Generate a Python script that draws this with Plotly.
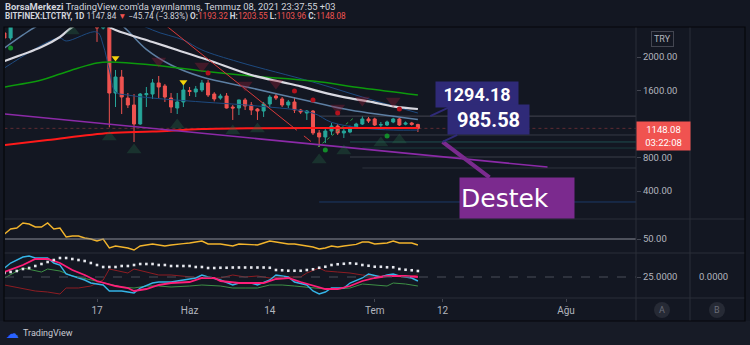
import plotly.graph_objects as go
import pandas as pd

W, H = 750, 345
BG = "#131722"
UP, DN = "#26a69a", "#ef5350"
TXT = "#b2b5be"


def yp(v):
    return (H - v) / H


def xp(v):
    return v / W


base = pd.Timestamp("2021-05-17")


def days(lst):
    return [base + pd.Timedelta(days=d) for d in lst]


# ---------------- price data (BITFINEX:LTCTRY, 1D) ----------------
dates = pd.date_range("2021-05-02", "2021-07-08", freq="D")
opens = [2287, 2227, 2750, 2560, 2900, 2980, 2950, 3050, 3150, 3000, 3200, 2550, 2650, 2780, 2480,
         2500, 2346, 2420, 1570, 1761, 1510, 1427, 1200, 1550, 1558, 1690, 1654, 1510, 1391, 1463,
         1600, 1582, 1606, 1690, 1558, 1510, 1534, 1403, 1391, 1487, 1427, 1379, 1355, 1439, 1534,
         1499, 1427, 1463, 1367, 1331, 1355, 1093, 1045, 1116, 1176, 1093, 1104, 1164, 1200, 1260,
         1260, 1188, 1188, 1224, 1260, 1198, 1212, 1193.32]
highs = [2420, 2800, 2850, 2950, 3050, 3050, 3100, 3300, 3450, 3250, 3300, 2800, 2900, 2820, 2650,
         2560, 2560, 2480, 1845, 1845, 1570, 1558, 1570, 1642, 1737, 1773, 1678, 1570, 1570, 1666,
         1642, 1654, 1725, 1725, 1580, 1560, 1570, 1427, 1490, 1510, 1463, 1391, 1463, 1546, 1570,
         1522, 1487, 1522, 1380, 1367, 1367, 1128, 1164, 1212, 1200, 1152, 1180, 1215, 1296, 1284,
         1275, 1224, 1240, 1275, 1272, 1230, 1225, 1203.55]
lows = [2190, 2200, 2500, 2540, 2850, 2850, 2900, 2950, 2900, 2950, 2500, 2400, 2600, 2450, 2400,
        2180, 2330, 1160, 1403, 1319, 1391, 985, 1190, 1403, 1499, 1510, 1463, 1331, 1319, 1403,
        1534, 1522, 1582, 1522, 1470, 1490, 1385, 1248, 1307, 1367, 1307, 1248, 1284, 1403, 1487,
        1403, 1391, 1331, 1320, 1248, 1069, 925, 973, 1069, 1069, 1033, 1090, 1150, 1188, 1212,
        1176, 1152, 1176, 1210, 1176, 1185, 1180, 1103.96]
closes = [2227, 2750, 2560, 2900, 2980, 2950, 3050, 3150, 3000, 3200, 2550, 2650, 2780, 2480, 2500,
          2346, 2420, 1570, 1761, 1522, 1427, 1200, 1558, 1562, 1690, 1642, 1522, 1403, 1463, 1606,
          1588, 1618, 1690, 1546, 1499, 1534, 1391, 1391, 1487, 1415, 1367, 1355, 1439, 1522, 1510,
          1427, 1463, 1367, 1343, 1355, 1093, 1045, 1116, 1176, 1093, 1116, 1164, 1200, 1260, 1236,
          1188, 1192, 1224, 1260, 1188, 1212, 1195, 1148.08]

# moving averages / bands (day offsets from 17 May)
white_days = [-15, -9, -6, -4, -1, 3, 9, 13, 18, 25, 30, 33, 36, 40, 44, 48, 52]
white_vals = [1952, 2119, 2239, 2358, 2460, 2322, 2179, 2084, 1964, 1785, 1700, 1650, 1590, 1520, 1470, 1410, 1379]
green_ma_days = [-15, -9, -6, -3, 0, 2, 9, 17, 25, 35, 43, 52]
green_ma_vals = [1642, 1725, 1797, 1869, 1928, 1940, 1904, 1833, 1773, 1713, 1630, 1546]
red_ma_days = [-15, -8, 2, 9, 17, 26, 39, 52]
red_ma_vals = [949, 1009, 1093, 1110, 1140, 1150, 1153, 1153]
steel_days = [-15, -12, -10, -6, -2, 1, 4, 8, 12, 17, 25, 35, 41, 52]
steel_vals = [2107, 2263, 2358, 2480, 2560, 2520, 2382, 2090, 1904, 1761, 1630, 1463, 1367, 1255]
bbu_days = [-15, -5, 0, 5, 9, 14, 17, 23, 35, 43, 52]
bbu_vals = [3000, 3500, 3400, 2500, 2322, 2203, 2084, 1940, 1701, 1522, 1331]
bbl_days = [-15, -8, -6, -5, 0, 1, 2, 3, 5, 9, 17, 26, 35, 38, 43, 48, 52]
bbl_vals = [1869, 2179, 2227, 2191, 2298, 2143, 1845, 1582, 1546, 1510, 1463, 1415, 1330, 1220, 1152, 1128, 1128]

# drawings
purple_dates = ["2021-05-02 02:00", "2021-07-29 00:00"]
purple_prices = [1320, 686]
red_trend_dates = ["2021-05-27 19:00", "2021-06-17 06:00"]
red_trend_prices = [2398, 1192]
red_dash_dates = ["2021-06-17 06:00", "2021-06-21 19:00"]
red_dash_prices = [1192, 925]
green_dash_dates = ["2021-06-21 19:00", "2021-06-27 19:00"]
green_dash_prices = [925, 1284]
level_prices = [1294.18, 1069, 985.58, 913, 806, 675, 269]
level_starts = ["2021-06-22", "2021-06-27", "2021-06-27", "2021-06-29", "2021-06-27", "2021-06-29", "2021-06-22"]
level_colors = ["#434651", "#363a45", "#1f4d4f", "#1b3a3c", "#3a3e49", "#2f333e", "#1c3a66"]
RANGE_END = "2021-08-12 08:14"

# signal markers
gup_days = [-4, 2, 6, 13, 22, 26, 36, 40, 46, 49]
gup_prices = [2310, 1045, 890, 1188, 1116, 1140, 770, 878, 973, 1009]
rdn_days = [10, 17, 24, 29, 39, 43, 48]
rdn_prices = [1952, 1892, 1666, 1690, 1391, 1487, 1475]
ydn_days = [3, 14]
ydn_prices = [1988, 1701]
rdot_days = [18, 32, 35, 39, 49]
rdot_prices = [1809, 1594, 1487, 1331, 1379]
gdot_days = [-14, 37, 47]
gdot_prices = [2107, 890, 1057]

# RSI pane (daily, 2 May .. 8 Jul)
rsi_vals = [57.5, 65, 66.5, 74, 72.5, 68, 68, 74, 65, 66.5, 53, 54.5, 54.5, 51.5, 50,
            47, 50, 36.5, 39.5, 38, 36.5, 33.5, 39.5, 41, 42.5, 41, 39.5, 41, 42.5, 43, 44, 45.5, 47, 42.5, 43,
            42.5, 41, 39.5, 42.5, 42, 41, 41, 44, 47, 45.5, 44, 42.5, 42.5, 41, 39.5, 38, 35, 36.5, 39.5, 38,
            39.5, 41, 42, 45.5, 45.5, 42.5, 43, 44, 47, 44, 44, 44, 41]

# DMI-like pane
cyan_days = [-15, -14, -12, -11, -10, -8, -7, -6, -5, -3, -2, -1, 1, 2, 4, 5, 6, 7, 9, 10, 12, 13, 15, 16, 17,
             18, 20, 22, 23, 25, 26, 28, 29, 31, 32, 34, 35, 36, 37, 38, 40, 41, 43, 44, 46, 47, 48, 49, 51, 52]
cyan_vals = [32.2, 36.2, 41, 41.8, 40.2, 40.2, 36.2, 34.6, 27.4, 24.2, 22.6, 20.2, 18.6, 13.8, 13.8, 13, 12.2,
             16.2, 20.2, 21, 21, 21.8, 23.4, 24.2, 26.6, 25, 22.6, 18.6, 20.2, 20.2, 18.6, 22.6, 26.6, 25, 21,
             18.6, 13.8, 11.4, 13, 16.2, 16.2, 20.2, 24.2, 27.4, 25, 26.6, 27.4, 25.8, 24.2, 21.8]
pink_days = [-15, -12, -10, -8, -6, -4, -2, 0, 3, 5, 6, 8, 10, 12, 15, 17, 19, 20, 23, 25, 27, 29, 31, 33, 36,
             37, 39, 41, 43, 45, 47, 50, 52]
pink_vals = [29, 34.6, 39.4, 39.4, 36.2, 30.6, 26.6, 21.8, 17.8, 16.2, 13.8, 15.4, 18.6, 20.2, 21, 24.2, 24.2,
             21.8, 20.2, 20.2, 20.2, 23.4, 24.2, 21, 17, 15.4, 15.4, 17.8, 21.8, 24.2, 25.8, 25.8, 25]
dgreen_days = [-15, -12, -9, -8, -6, -4, -3, -1, 2, 4, 6, 8, 10, 12, 15, 17, 20, 22, 24, 26, 28, 30, 32, 35,
               37, 39, 41, 43, 45, 47, 48, 50, 52]
dgreen_vals = [24.2, 32.2, 29, 31.4, 29.8, 25.8, 25, 22.6, 19.4, 17, 16.2, 17.8, 17.8, 17, 17.8, 18.6, 17.8,
               16.2, 16.2, 16.2, 18.6, 18.6, 17.8, 16.2, 15.4, 15.4, 16.2, 19.4, 18.6, 17.8, 20.2, 19.4, 17.8]
dred_days = [-15, -12, -10, -8, -6, -5, -3, -1, 0, 1, 2, 4, 5, 6, 8, 10, 12, 15, 17, 20, 22, 24, 26, 28, 30,
             33, 34, 36, 37, 39, 41, 43, 45, 47, 50, 52]
dred_vals = [18.6, 15.4, 13.8, 13, 11.4, 16.2, 16.2, 17.8, 20.2, 22.6, 31.4, 29, 28.2, 31.4, 29, 26.6, 26.6,
             25, 24.2, 24.2, 26.6, 25, 25.8, 24.2, 25, 25, 28.2, 32.2, 29.8, 29, 28.2, 26.6, 25.8, 25.8, 25, 26.6]
dots_vals = [28.2, 29, 29.8, 31.4, 32.2, 33.8, 35.4, 37, 38.6, 40.2, 40.2, 39.4, 38.6, 37.8, 36.2,
             34.6, 33, 33, 33, 33.8, 33.8, 34.6, 35.4, 35.4, 35.4, 34.6, 34.6, 33.8, 33.8, 33.8, 33.8, 33, 33, 32.2, 32.2,
             32.4, 32.4, 32.6, 32.6, 32.6, 32.6, 32.6, 32.6, 32.4,
             30.6, 30.4, 30, 30, 30, 30.6, 31.2,
             32.4, 33.2, 34.6, 35.2, 35.6, 36, 35.6,
             34.6, 34, 33.2, 33.2, 32.8, 32.8, 31.4, 30.8, 30.4, 29.8]

x_tickvals = ["2021-05-17", "2021-06-01", "2021-06-14", "2021-07-01", "2021-07-12", "2021-08-01"]
x_ticktext = ["17", "Haz", "14", "Tem", "12", "Ağu"]
price_ticks = [400, 800, 1600, 2000]

fig = go.Figure()


def line(x, y, color, width, yaxis="y", dash=None, shape="linear"):
    fig.add_trace(go.Scatter(x=x, y=y, mode="lines", yaxis=yaxis, hoverinfo="skip",
                             line=dict(color=color, width=width, dash=dash, shape=shape)))


# horizontal levels
for p, s, c in zip(level_prices, level_starts, level_colors):
    line([s, RANGE_END], [p, p], c, 1)
# current price dashed line
line([dates[0], RANGE_END], [closes[-1], closes[-1]], "rgba(239,83,80,0.35)", 1, dash="dot")

# indicator lines (main pane)
line(days(bbu_days), bbu_vals, "#1d4a80", 1, shape="spline")
line(days(bbl_days), bbl_vals, "#1d4a80", 1, shape="spline")
line(days(steel_days), steel_vals, "#5d7fa3", 1.5, shape="spline")
line(days(green_ma_days), green_ma_vals, "#0c9a0c", 1.5, shape="spline")
line(days(white_days), white_vals, "#d8d8e0", 2.2, shape="spline")
line(days(red_ma_days), red_ma_vals, "#ff1a1a", 2, shape="spline")
line(purple_dates, purple_prices, "#8c2aa8", 1.6)
line(red_trend_dates, red_trend_prices, "#d83a3a", 1)
line(red_dash_dates, red_dash_prices, "#d83a3a", 1, dash="dash")
line(green_dash_dates, green_dash_prices, "#2e9e4a", 1, dash="dot")


def markers(d, p, symbol, size, color):
    fig.add_trace(go.Scatter(x=days(d), y=p, mode="markers", hoverinfo="skip",
                             marker=dict(symbol=symbol, size=size, color=color, line=dict(width=0))))


markers(gup_days, gup_prices, "triangle-up", 13, "rgba(40,110,70,0.32)")
markers(rdn_days, rdn_prices, "triangle-down", 13, "rgba(150,30,55,0.36)")

fig.add_trace(go.Candlestick(
    x=dates, open=opens, high=highs, low=lows, close=closes, hoverinfo="skip",
    increasing=dict(line=dict(color=UP, width=1), fillcolor=UP),
    decreasing=dict(line=dict(color=DN, width=1), fillcolor=DN),
    whiskerwidth=0))

markers(ydn_days, ydn_prices, "triangle-down", 7, "#f5d20a")
markers(rdot_days, rdot_prices, "circle", 5, "#b3121d")
markers(gdot_days, gdot_prices, "circle", 5, "#138a2a")

# RSI pane
line(dates, rsi_vals, "#f2b42c", 1.4, yaxis="y2")
# DMI pane
line(days(dred_days), dred_vals, "#8e1d22", 1, yaxis="y3")
line(days(dgreen_days), dgreen_vals, "#3d8f45", 1, yaxis="y3")
line(days(cyan_days), cyan_vals, "#35b4e6", 1.4, yaxis="y3")
line(days(pink_days), pink_vals, "#ff1e78", 1.8, yaxis="y3")
fig.add_trace(go.Scatter(x=dates, y=dots_vals, mode="markers", yaxis="y3", hoverinfo="skip",
                         marker=dict(symbol="square", size=2.6, color="#e6e8ee")))

axfont = dict(family="Roboto", size=9.5, color=TXT)
fig.update_layout(
    width=W, height=H, margin=dict(l=0, r=0, t=0, b=0),
    paper_bgcolor=BG, plot_bgcolor=BG, showlegend=False, hovermode=False,
    xaxis=dict(domain=[xp(5), xp(636)], anchor="y3", type="date",
               range=["2021-05-02 02:12", RANGE_END], rangeslider=dict(visible=False),
               showgrid=False, zeroline=False, showline=False,
               tickvals=x_tickvals, ticktext=x_ticktext, ticks="outside", ticklen=3,
               tickcolor="#434651", tickfont=dict(family="Roboto", size=10, color=TXT)),
    yaxis=dict(domain=[yp(219), yp(27)], range=[65.67, 2358.2], side="right", anchor="x",
               tickvals=price_ticks, tickformat=".2f", ticks="outside", ticklen=4,
               tickcolor="#434651", showgrid=False, zeroline=False, tickfont=axfont),
    yaxis2=dict(domain=[yp(253), yp(219)], range=[29, 80], side="right", anchor="x",
                tickvals=[50], ticktext=["50.00"], ticks="outside", ticklen=4, tickcolor="#434651",
                showgrid=False, zeroline=False, tickfont=axfont),
    yaxis3=dict(domain=[yp(298), yp(253)], range=[8.2, 44.2], side="right", anchor="x",
                tickvals=[25], ticktext=["25.0000"], ticks="outside", ticklen=4, tickcolor="#434651",
                showgrid=False, zeroline=False, tickfont=axfont),
)

shapes = []
# bottom strip
shapes.append(dict(type="rect", xref="paper", yref="paper", x0=0, x1=1, y0=0, y1=yp(321),
                   fillcolor="#171b26", line=dict(width=0), layer="below"))
# RSI 50 line and DMI 25 line
shapes.append(dict(type="line", xref="paper", yref="y2", x0=xp(5), x1=xp(636), y0=50, y1=50,
                   line=dict(color="#8a8d96", width=1)))
shapes.append(dict(type="line", xref="paper", yref="y3", x0=xp(5), x1=xp(636), y0=25, y1=25,
                   line=dict(color="#4a4e59", width=1, dash="dash")))
# pane separators
for ypx in [219, 253, 298]:
    shapes.append(dict(type="line", xref="paper", yref="paper", x0=xp(4), x1=xp(745), y0=yp(ypx), y1=yp(ypx),
                       line=dict(color="#2a2e39", width=1)))
for xpx in [636, 690]:
    shapes.append(dict(type="line", xref="paper", yref="paper", x0=xp(xpx), x1=xp(xpx), y0=yp(321), y1=yp(27),
                       line=dict(color="#2a2e39", width=1)))
# frame
shapes.append(dict(type="rect", xref="paper", yref="paper", x0=xp(4), x1=xp(745), y0=yp(321), y1=yp(27),
                   line=dict(color="#06070b", width=1.2)))
# A / B buttons
for cx in [662, 717]:
    shapes.append(dict(type="circle", xref="paper", yref="paper", x0=xp(cx - 8), x1=xp(cx + 8),
                       y0=yp(318), y1=yp(302), fillcolor="#262a35", line=dict(width=0)))
fig.update_layout(shapes=shapes)

ann = []
P = dict(xref="paper", yref="paper", showarrow=False, yanchor="middle")
r = "<span style='color:#ef5350'>%s</span>"
ann.append(dict(P, x=xp(3), y=yp(6), xanchor="left",
                font=dict(family="Roboto", size=9.4, color="#d1d4dc"),
                text="<b>BorsaMerkezi</b> TradingView.com'da yayınlanmış, Temmuz 08, 2021 23:37:55 +03"))
ann.append(dict(P, x=xp(3), y=yp(17), xanchor="left",
                font=dict(family="Roboto", size=8.2, color="#d1d4dc"),
                text="<b>BITFINEX:LTCTRY, 1D</b> 1147.84 " + r % "▼" + " −45.74 (−3.83%) "
                     + "<b>O:</b>" + r % "1193.32" + " <b>H:</b>" + r % "1203.55"
                     + " <b>L:</b>" + r % "1103.96" + " <b>C:</b>" + r % "1148.08"))
# callouts
ann.append(dict(x="2021-07-10", y=1294.18, xref="x", yref="y", ax=47, ay=-22, text="<b>1294.18</b>",
                showarrow=True, arrowhead=0, arrowwidth=2, arrowcolor="#2f2a78", bgcolor="#2f2a78",
                width=80, height=23, font=dict(family="Roboto", size=18, color="#ffffff")))
ann.append(dict(x="2021-07-12", y=985.58, xref="x", yref="y", ax=74, ay=56, text="Destek",
                showarrow=True, arrowhead=0, arrowwidth=4, arrowcolor="#7b2a8e", bgcolor="#7b2a8e",
                width=112, height=38, align="left",
                font=dict(family="DejaVu Sans", size=25, color="#ffffff")))
ann.append(dict(x="2021-07-12", y=985.58, xref="x", yref="y", ax=46, ay=-22, text="<b>985.58</b>",
                showarrow=True, arrowhead=0, arrowwidth=2, arrowcolor="#2f2a78", bgcolor="#2f2a78",
                width=79, height=27, font=dict(family="Roboto", size=20, color="#ffffff")))
# price label
ann.append(dict(x=xp(636), y=closes[-1], xref="paper", yref="y", xanchor="left", yanchor="top", yshift=7.5,
                text="1148.08<br>03:22:08", showarrow=False, bgcolor="#f05350", width=51, height=26,
                font=dict(family="Roboto", size=9.5, color="#ffffff")))
ann.append(dict(P, x=xp(662.5), y=yp(39), xanchor="center", text="TRY",
                bordercolor="#434651", borderwidth=1, borderpad=2,
                font=dict(family="Roboto", size=9, color=TXT)))
ann.append(dict(P, x=xp(697), y=yp(276), xanchor="left", text="0.0000",
                font=dict(family="Roboto", size=9.5, color=TXT)))
for cx, t in [(662, "A"), (717, "B")]:
    ann.append(dict(P, x=xp(cx), y=yp(310), xanchor="center", text=t,
                    font=dict(family="Roboto", size=9, color="#6a6d78")))
ann.append(dict(P, x=xp(4), y=yp(333), xanchor="left", text="☁",
                font=dict(family="DejaVu Sans", size=13, color="#2962ff")))
ann.append(dict(P, x=xp(21), y=yp(333), xanchor="left", text="TradingView",
                font=dict(family="Roboto", size=9, color="#c8cad2")))
fig.update_layout(annotations=ann)

fig.write_html("out.html")
